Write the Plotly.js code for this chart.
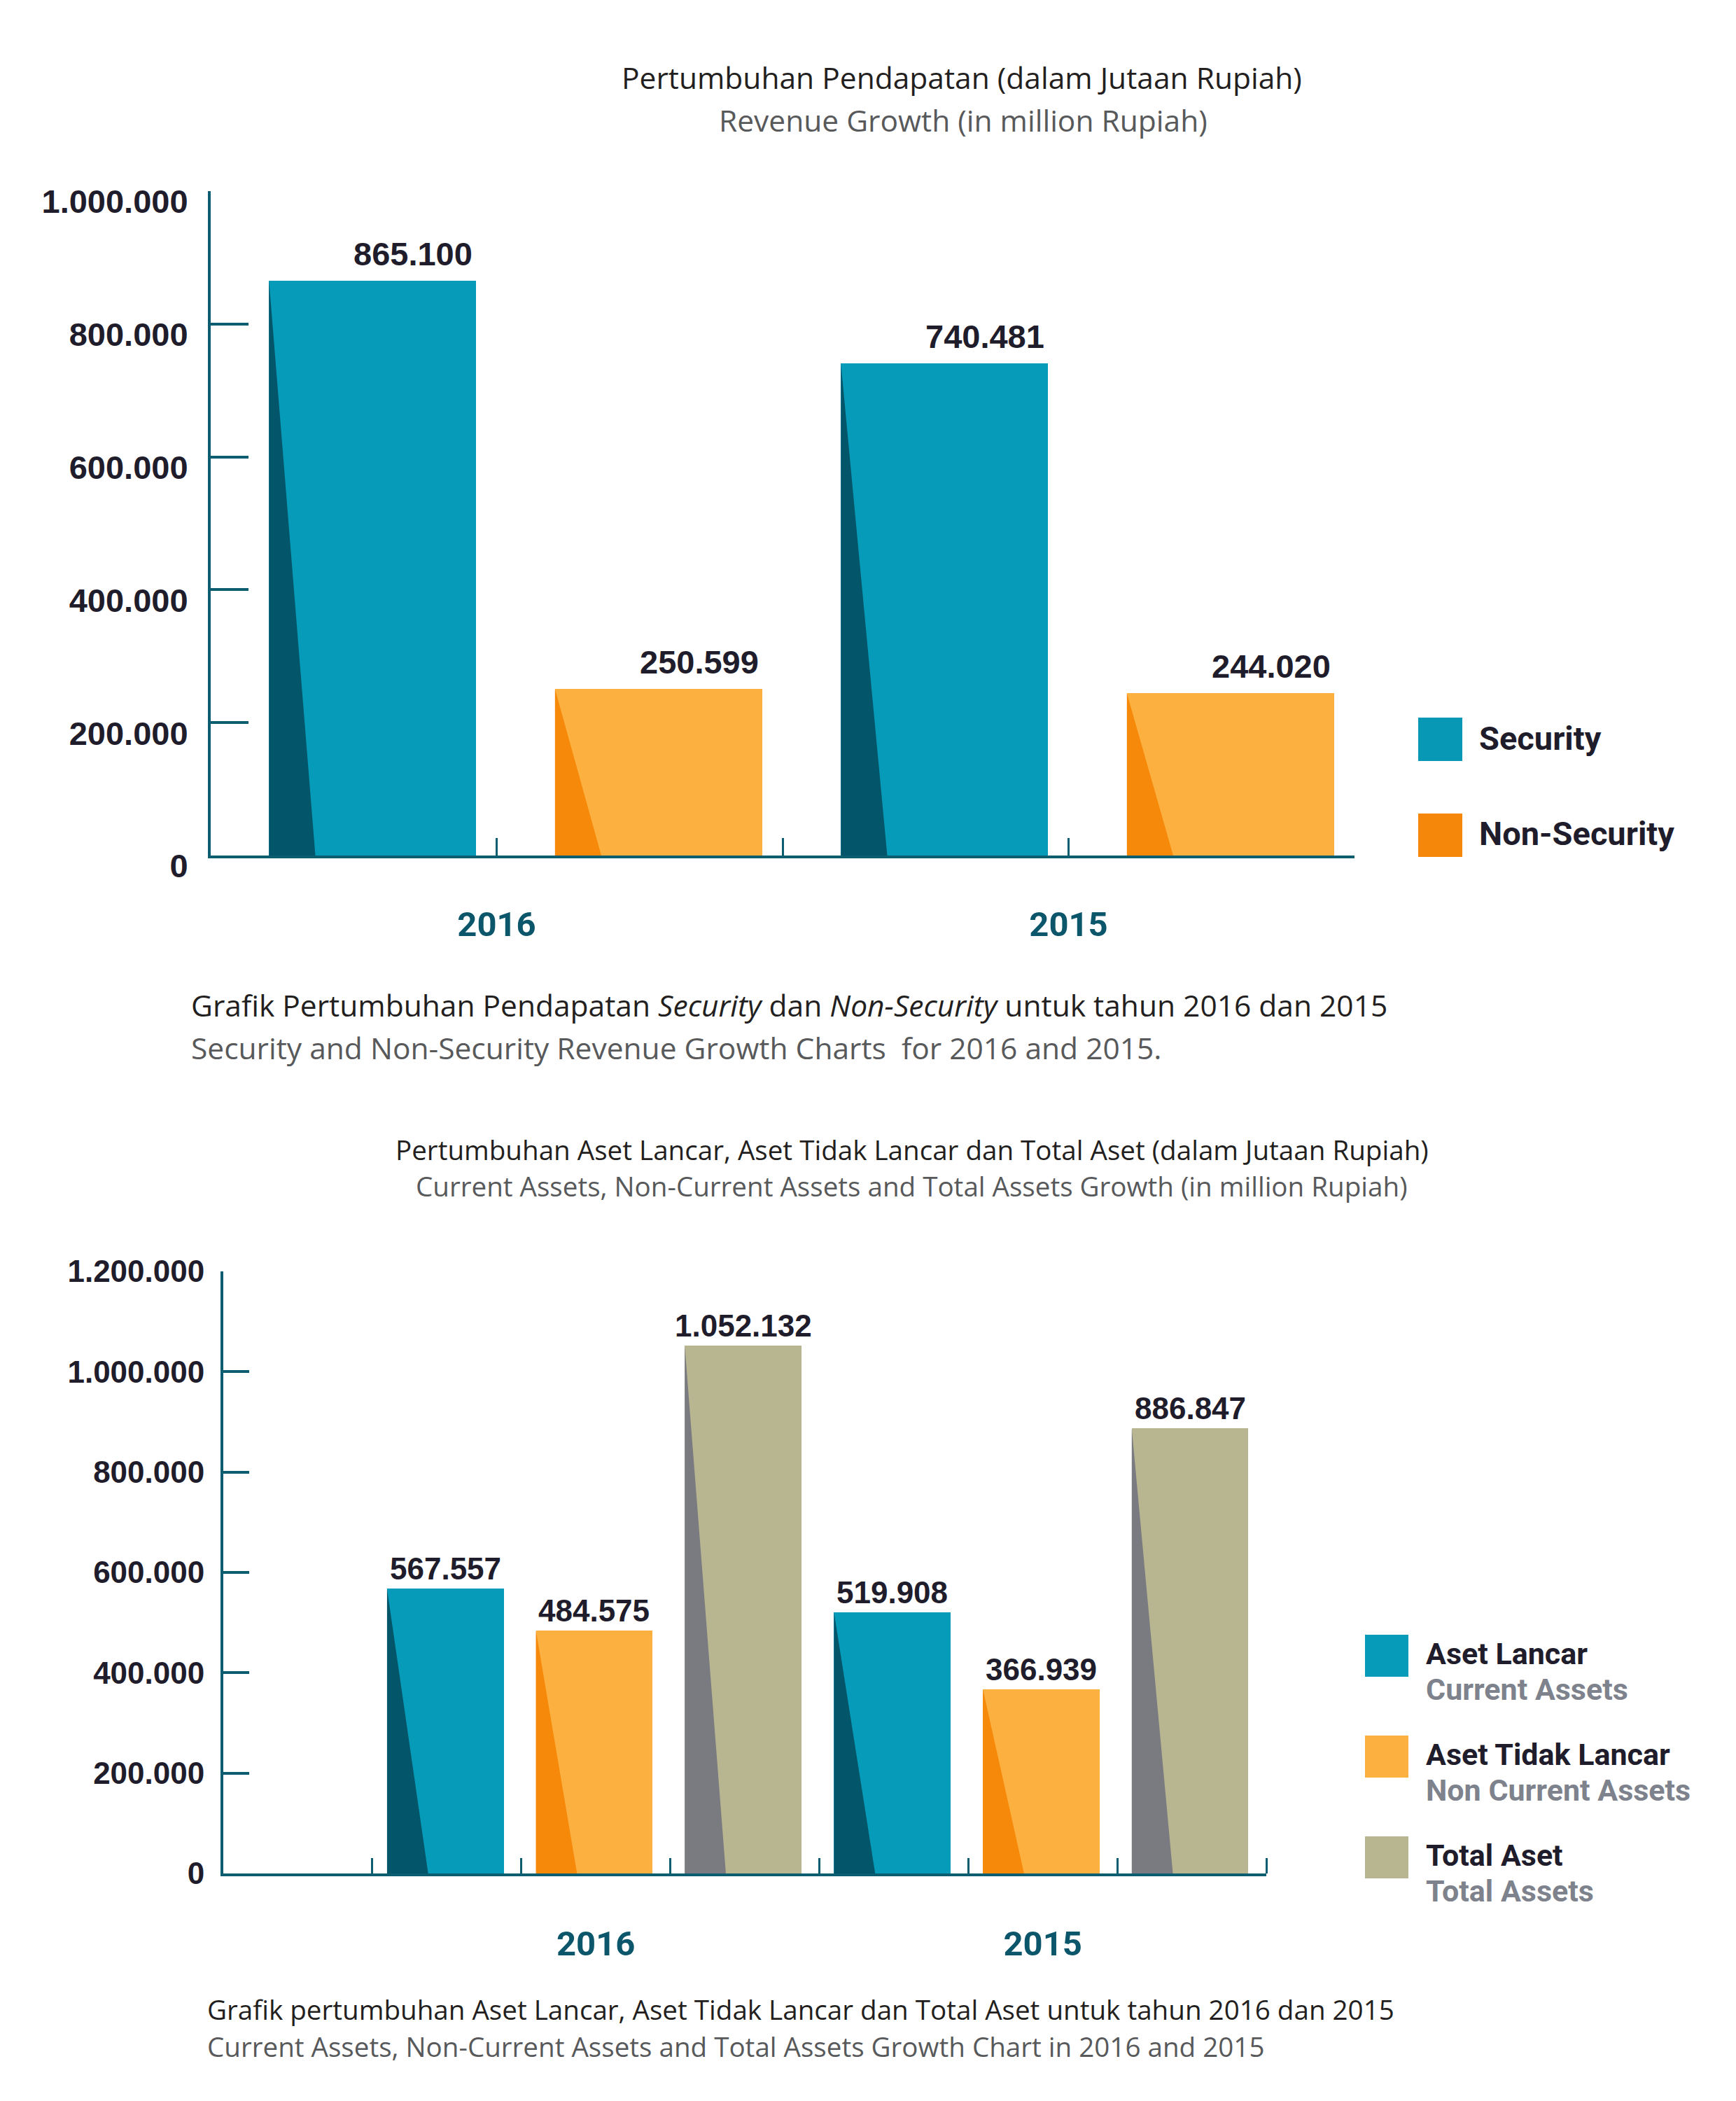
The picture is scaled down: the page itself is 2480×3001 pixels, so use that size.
<!DOCTYPE html>
<html>
<head>
<meta charset="utf-8">
<script src="https://cdn.plot.ly/plotly-3.0.1.min.js"></script>
<style>
  html, body { margin: 0; padding: 0; background: #ffffff; }
  #chart { width: 2480px; height: 3001px; }
</style>
</head>
<body>
<div id="chart"></div>
<script>
// ---------------- DATA ----------------
const years = ['2016', '2015'];

const revenueSeries = ['Security', 'Non-Security'];
const securityRevenue = [865100, 740481];
const nonSecurityRevenue = [250599, 244020];
const revenueTicks = [0, 200000, 400000, 600000, 800000, 1000000];

const assetSeries = ['Aset Lancar', 'Aset Tidak Lancar', 'Total Aset'];
const assetSeriesEn = ['Current Assets', 'Non Current Assets', 'Total Assets'];
const currentAssets = [567557, 519908];
const nonCurrentAssets = [484575, 366939];
const totalAssets = [1052132, 886847];
const assetTicks = [0, 200000, 400000, 600000, 800000, 1000000, 1200000];

const texts = {
  title1: 'Pertumbuhan Pendapatan (dalam Jutaan Rupiah)',
  sub1: 'Revenue Growth (in million Rupiah)',
  cap1a: 'Grafik Pertumbuhan Pendapatan <i>Security</i> dan <i>Non-Security</i> untuk tahun 2016 dan 2015',
  cap1b: 'Security and Non-Security Revenue Growth Charts&nbsp; for 2016 and 2015.',
  title2: 'Pertumbuhan Aset Lancar, Aset Tidak Lancar dan Total Aset (dalam Jutaan Rupiah)',
  sub2: 'Current Assets, Non-Current Assets and Total Assets Growth (in million Rupiah)',
  cap2a: 'Grafik pertumbuhan Aset Lancar, Aset Tidak Lancar dan Total Aset untuk tahun 2016 dan 2015',
  cap2b: 'Current Assets, Non-Current Assets and Total Assets Growth Chart in 2016 and 2015'
};

// ---------------- STYLE ----------------
const W = 2480, H = 3001;
const px = v => v / W;
const py = v => 1 - v / H;
const axisColor = '#0d5d70';
const yearColor = '#0b566b';
const inkColor = '#1f1d2b';
const greyColor = '#58595b';
const legendGrey = '#7d828c';
const condFont = 'Roboto, Liberation Sans, sans-serif';
const boldFont = 'Liberation Sans, Arial, sans-serif';
const textFont = 'Open Sans, Noto Sans, sans-serif';

const mainColors1 = ['#069bb9', '#fbb040'];
const darkColors1 = ['#03566a', '#f6880a'];
const legendColors1 = ['#0698b5', '#f5870b'];
const mainColors2 = ['#069bb9', '#fbb040', '#b8b591'];
const darkColors2 = ['#03566a', '#f6880a', '#7a7b80'];

const fmt = v => String(Math.round(v)).replace(/\B(?=(\d{3})+(?!\d))/g, '.');
const idx = years.map((_, i) => i);

function barTrace(vals, off, w, color, xa, ya) {
  return { type: 'bar', x: idx, y: vals, offset: off, width: w,
    marker: { color: color, line: { width: 0 } }, xaxis: xa, yaxis: ya, hoverinfo: 'skip' };
}
function triTrace(vals, off, base, color, xa, ya) {
  const xs = [], ys = [];
  vals.forEach((v, i) => {
    xs.push(i + off, i + off, i + off + base, null);
    ys.push(v, 0, 0, null);
  });
  return { type: 'scatter', mode: 'lines', x: xs, y: ys, fill: 'toself', fillcolor: color,
    line: { width: 0, color: color }, xaxis: xa, yaxis: ya, hoverinfo: 'skip' };
}

// ---------------- CHART 1 ----------------
const rev = [securityRevenue, nonSecurityRevenue];
const off1 = [-0.398, 0.102], w1 = 0.362, tri1 = 0.081;
const traces = [];
const annotations = [];
const shapes = [];

rev.forEach((vals, s) => {
  traces.push(barTrace(vals, off1[s], w1, mainColors1[s], 'x', 'y'));
  traces.push(triTrace(vals, off1[s], tri1, darkColors1[s], 'x', 'y'));
  vals.forEach((v, i) => {
    annotations.push({ xref: 'x', yref: 'y', x: i + off1[s] + w1, y: v, xanchor: 'right', yanchor: 'bottom',
      xshift: -3, yshift: 10, showarrow: false, text: fmt(v),
      font: { family: boldFont, size: 47, color: inkColor, weight: 700 } });
  });
});

// ---------------- CHART 2 ----------------
const assets = [currentAssets, nonCurrentAssets, totalAssets];
const off2 = [-0.467, -0.134, 0.199], w2 = 0.261, tri2 = 0.092;
assets.forEach((vals, s) => {
  traces.push(barTrace(vals, off2[s], w2, mainColors2[s], 'x2', 'y2'));
  traces.push(triTrace(vals, off2[s], tri2, darkColors2[s], 'x2', 'y2'));
  vals.forEach((v, i) => {
    annotations.push({ xref: 'x2', yref: 'y2', x: i + off2[s] + w2 / 2, y: v, xanchor: 'center', yanchor: 'bottom',
      yshift: 2, showarrow: false, text: fmt(v),
      font: { family: boldFont, size: 44, color: inkColor, weight: 700 } });
  });
});

// minor tick positions (slot boundaries)
const bounds1 = [];
idx.forEach(i => { bounds1.push(i - 0.5); bounds1.push(i + 0.5); });
const bounds2 = [];
idx.forEach(i => { for (let k = 0; k <= 3; k++) bounds2.push(i - 0.5 + k / 3); });

// ---------------- LEGENDS ----------------
revenueSeries.forEach((name, s) => {
  const top = [1025, 1162][s];
  shapes.push({ type: 'rect', xref: 'paper', yref: 'paper', x0: px(2026), x1: px(2089), y0: py(top + 62), y1: py(top),
    fillcolor: legendColors1[s], line: { width: 0 } });
  annotations.push({ xref: 'paper', yref: 'paper', x: px(2111), y: py(top + 29), xanchor: 'left', yanchor: 'middle',
    showarrow: false, text: name, font: { family: condFont, size: 47, color: inkColor, weight: 700 } });
});
assetSeries.forEach((name, s) => {
  const top = 2335 + s * 144;
  shapes.push({ type: 'rect', xref: 'paper', yref: 'paper', x0: px(1950), x1: px(2012), y0: py(top + 60), y1: py(top),
    fillcolor: mainColors2[s], line: { width: 0 } });
  annotations.push({ xref: 'paper', yref: 'paper', x: px(2035), y: py(top + 27), xanchor: 'left', yanchor: 'middle',
    showarrow: false, text: name, font: { family: condFont, size: 43, color: inkColor, weight: 700 } });
  annotations.push({ xref: 'paper', yref: 'paper', x: px(2035), y: py(top + 78), xanchor: 'left', yanchor: 'middle',
    showarrow: false, text: assetSeriesEn[s], font: { family: condFont, size: 43, color: legendGrey, weight: 700 } });
});

// ---------------- TITLES & CAPTIONS ----------------
function txt(t, x, y, anchor, size, color) {
  annotations.push({ xref: 'paper', yref: 'paper', x: px(x), y: py(y), xanchor: anchor, yanchor: 'middle',
    showarrow: false, text: t, font: { family: textFont, size: size, color: color } });
}
txt(texts.title1, 1374, 111, 'center', 42.5, '#231f20');
txt(texts.sub1, 1376, 171, 'center', 42.5, greyColor);
txt(texts.cap1a, 271, 1435, 'left', 42.5, '#231f20');
txt(texts.cap1b, 271, 1496, 'left', 42.5, greyColor);
txt(texts.title2, 1303, 1642, 'center', 38.6, '#231f20');
txt(texts.sub2, 1302, 1694, 'center', 38.6, greyColor);
txt(texts.cap2a, 294, 2870, 'left', 38.6, '#231f20');
txt(texts.cap2b, 294, 2923, 'left', 38.6, greyColor);

// ---------------- AXES ----------------
const commonX = {
  showline: true, linecolor: axisColor, linewidth: 4, showgrid: false, zeroline: false,
  tickmode: 'array', tickvals: idx, ticktext: years,
  tickfont: { family: condFont, size: 49, color: yearColor, weight: 700 }, fixedrange: true
};
const layout = {
  width: W, height: H, margin: { l: 0, r: 0, t: 0, b: 0 },
  paper_bgcolor: '#ffffff', plot_bgcolor: 'rgba(0,0,0,0)',
  showlegend: false, separators: ',.', bargap: 0,
  xaxis: Object.assign({}, commonX, {
    domain: [px(301), px(1935)], range: [-0.5, 1.5], anchor: 'y',
    ticks: 'inside', ticklen: 25, tickwidth: 3, tickcolor: axisColor,
    minor: { tickmode: 'array', tickvals: bounds1, ticks: 'inside', ticklen: 25, tickwidth: 3, tickcolor: axisColor, showgrid: false },
    ticklabelstandoff: 52
  }),
  yaxis: {
    domain: [py(1222), py(273)], range: [0, 1000000], anchor: 'x',
    tickmode: 'array', tickvals: revenueTicks, tickformat: ',d',
    ticks: 'inside', ticklen: 54, tickwidth: 4, tickcolor: axisColor,
    showline: true, linecolor: axisColor, linewidth: 4, showgrid: false, zeroline: false,
    tickfont: { family: boldFont, size: 47, color: inkColor, weight: 700 },
    ticklabelstandoff: 19, ticklabelshift: 15, fixedrange: true
  },
  xaxis2: Object.assign({}, commonX, {
    domain: [px(319), px(1809)], range: [-0.8333, 1.5], anchor: 'y2',
    ticks: '',
    minor: { tickmode: 'array', tickvals: bounds2, ticks: 'inside', ticklen: 22, tickwidth: 3, tickcolor: axisColor, showgrid: false },
    ticklabelstandoff: 54
  }),
  yaxis2: {
    domain: [py(2676), py(1816)], range: [0, 1200000], anchor: 'x2',
    tickmode: 'array', tickvals: assetTicks, tickformat: ',d',
    ticks: 'inside', ticklen: 37, tickwidth: 4, tickcolor: axisColor,
    showline: true, linecolor: axisColor, linewidth: 4, showgrid: false, zeroline: false,
    tickfont: { family: boldFont, size: 44, color: inkColor, weight: 700 },
    ticklabelstandoff: 14, fixedrange: true
  },
  annotations: annotations,
  shapes: shapes
};

Plotly.newPlot('chart', traces, layout, { staticPlot: true, displayModeBar: false });
</script>
</body>
</html>
